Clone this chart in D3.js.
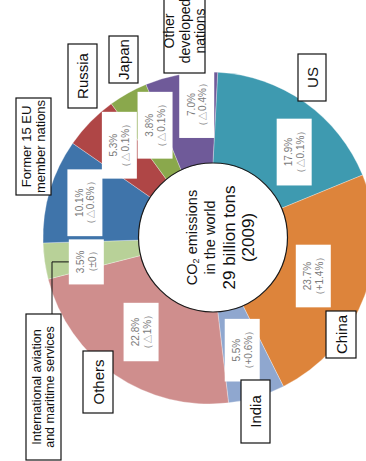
<!DOCTYPE html>
<html>
<head>
<meta charset="utf-8">
<script src="https://cdn.jsdelivr.net/npm/d3@7"></script>
<style>
  html, body { margin: 0; padding: 0; background: #fff; }
  svg { display: block; }
</style>
</head>
<body>
<svg id="chart" width="366" height="461"></svg>
<script>
// CO2 emissions by region, 2009 (share of world total, change from previous year)
const regions = ["US", "China", "India", "Others",
  "International aviation and maritime services",
  "Former 15 EU member nations", "Russia", "Japan", "Other developed nations"];
const shares = [17.9, 23.7, 5.5, 22.8, 3.5, 10.1, 5.3, 3.8, 7.0];
const changes = ["△0.1%", "+1.4%", "+0.6%", "△1%", "±0", "△0.6%", "△0.1%", "△0.1%", "△0.4%"];
const nameLines = [["US"], ["China"], ["India"], ["Others"],
  ["International aviation", "and maritime services"],
  ["Former 15 EU", "member nations"], ["Russia"], ["Japan"],
  ["Other", "developed", "nations"]];
const colors = ["#3e9ab0", "#dd843b", "#8fa7cf", "#cf8e8d", "#b8d198",
  "#3f74aa", "#af4646", "#8aa84c", "#6f5a99"];

// Layout
const cx = 209, cy = 238, outerR = 166;
const hole = { x: 213, y: 237.5, r: 74.5 };
const startDeg = 3;
const labelR = [121, 111, 117, 116, 125, 129, 129, 125, 134];
const labelShift = [9.4, -0.5, 0.2, 1.4, -3, -0.7, 1.6, 3.6, 4.4];
// callout boxes: centre, screen width/height, font size
const callouts = [
  { x: 312, y: 77.5, w: 28, h: 47, fs: 15 },
  { x: 341, y: 334.5, w: 30, h: 47, fs: 15 },
  { x: 255.5, y: 411.5, w: 29, h: 63, fs: 15 },
  { x: 98, y: 382, w: 30, h: 62, fs: 15 },
  { x: 43.5, y: 387, w: 35, h: 146, fs: 12.5 },
  { x: 33.5, y: 146.5, w: 35, h: 97, fs: 13 },
  { x: 82.5, y: 76, w: 29, h: 64, fs: 15 },
  { x: 123.5, y: 59.5, w: 29, h: 47, fs: 15 },
  { x: 184.5, y: 31, w: 41, h: 84, fs: 14 }
];

const svg = d3.select("#chart");
const data = regions.map((r, i) => ({ region: r, share: shares[i], change: changes[i], i }));

const pie = d3.pie()
  .sort(null)
  .value(d => d.share)
  .startAngle(startDeg * Math.PI / 180)
  .endAngle((startDeg + 360) * Math.PI / 180);
const arcs = pie(data);
const arc = d3.arc().innerRadius(0).outerRadius(outerR);

const g = svg.append("g").attr("transform", `translate(${cx},${cy})`);
g.selectAll("path.slice")
  .data(arcs)
  .join("path")
  .attr("class", "slice")
  .attr("d", arc)
  .attr("fill", (d, i) => colors[i])
  .attr("stroke", "rgba(255,255,255,0.5)")
  .attr("stroke-width", 0.6);

// white centre disc
svg.append("circle")
  .attr("cx", hole.x).attr("cy", hole.y).attr("r", hole.r)
  .attr("fill", "#fff").attr("stroke", "#1a1a1a").attr("stroke-width", 1.2);

// centre title, rotated
const ct = svg.append("g")
  .attr("transform", `translate(${hole.x + 6},${hole.y}) rotate(-90)`)
  .attr("font-family", "'Liberation Sans', Arial, sans-serif")
  .attr("text-anchor", "middle")
  .attr("fill", "#111");
const t1 = ct.append("text").attr("y", -27).attr("dominant-baseline", "central").attr("font-size", 14.5);
t1.append("tspan").text("CO");
t1.append("tspan").text("2").attr("font-size", 9).attr("dy", 4);
t1.append("tspan").text(" emissions").attr("dy", -4);
ct.append("text").attr("y", -9).attr("dominant-baseline", "central").attr("font-size", 14.5).text("in the world");
ct.append("text").attr("y", 10).attr("dominant-baseline", "central").attr("font-size", 17).text("29 billion tons");
ct.append("text").attr("y", 29).attr("dominant-baseline", "central").attr("font-size", 17).text("(2009)");

// value labels on white boxes
arcs.forEach((a, i) => {
  const theta = (a.startAngle + a.endAngle) / 2 + labelShift[i] * Math.PI / 180;
  const x = cx + labelR[i] * Math.sin(theta);
  const y = cy - labelR[i] * Math.cos(theta);
  const lg = svg.append("g").attr("transform", `translate(${x},${y}) rotate(-90)`);
  const rect = lg.append("rect").attr("fill", "#fff");
  const tg = lg.append("g")
    .attr("font-family", "'Liberation Sans Narrow', 'Arial Narrow', 'Liberation Sans', sans-serif")
    .attr("font-size", 10)
    .attr("fill", "#7a7a7a")
    .attr("text-anchor", "middle");
  tg.append("text").attr("y", -5.5).attr("dominant-baseline", "central")
    .text(d3.format(".1f")(a.data.share) + "%");
  tg.append("text").attr("y", 6).attr("dominant-baseline", "central")
    .text("（" + a.data.change + "）");
  const bb = tg.node().getBBox();
  const len = bb.width + 14;
  rect.attr("x", -len / 2).attr("y", -17.5).attr("width", len).attr("height", 35);
});

// leader from aviation callout to its value box
{
  const c = callouts[4];
  const a = arcs[4];
  const theta = (a.startAngle + a.endAngle) / 2 + labelShift[4] * Math.PI / 180;
  const vx = cx + labelR[4] * Math.sin(theta) - 17.5;
  const vy = cy - labelR[4] * Math.cos(theta);
  const lx = c.x + 8.5;
  svg.append("path")
    .attr("d", `M${lx},${c.y - c.h / 2} V${vy} H${vx}`)
    .attr("fill", "none").attr("stroke", "#111").attr("stroke-width", 1);
}

// region name callouts
callouts.forEach((c, i) => {
  const cg = svg.append("g").attr("transform", `translate(${c.x},${c.y}) rotate(-90)`);
  cg.append("rect")
    .attr("x", -c.h / 2).attr("y", -c.w / 2)
    .attr("width", c.h).attr("height", c.w)
    .attr("fill", "#fff").attr("stroke", "#111").attr("stroke-width", 1.2);
  const lines = nameLines[i];
  const step = c.fs * 1.08;
  lines.forEach((ln, k) => {
    cg.append("text")
      .attr("y", (k - (lines.length - 1) / 2) * step)
      .attr("dominant-baseline", "central")
      .attr("text-anchor", "middle")
      .attr("font-family", "'Liberation Sans', Arial, sans-serif")
      .attr("font-size", c.fs)
      .attr("fill", "#111")
      .text(ln);
  });
});
</script>
</body>
</html>
